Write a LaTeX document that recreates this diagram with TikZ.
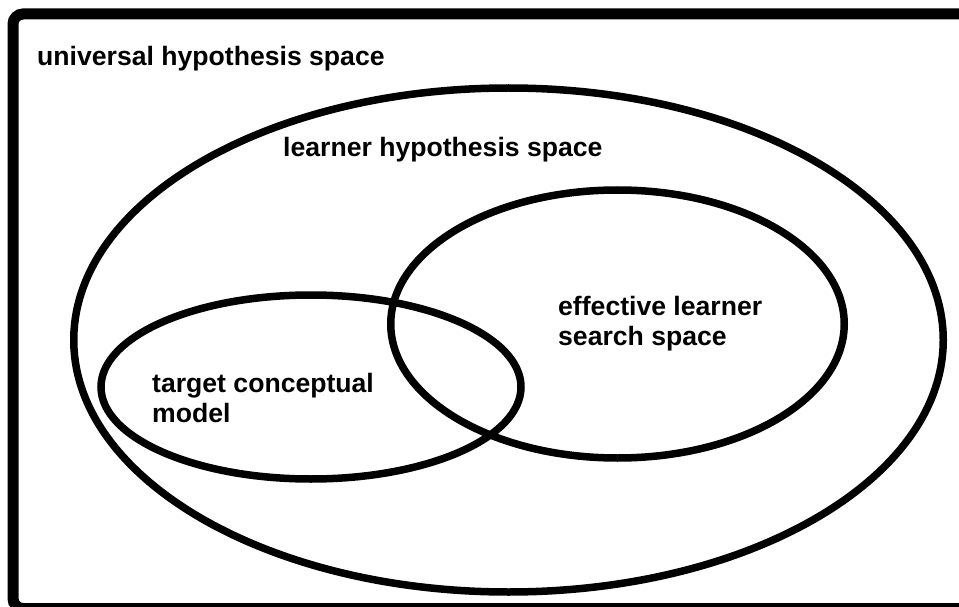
\documentclass[tikz,border=0pt]{standalone}
\usepackage{fontspec}
\setmainfont{Liberation Sans}
\usetikzlibrary{positioning}

\begin{document}
\begin{tikzpicture}
[x=1pt,y=-1pt,%
  frameLine/.style={line width=11pt,rounded corners=10pt},%
  setLine/.style={line width=7.5pt},%
  setLabel/.style={inner sep=0pt,align=left,font=\bfseries\fontsize{26.6}{30}\selectfont}]
\useasboundingbox (0,0) rectangle (959,607);
\clip (0,0) rectangle (959,607);
%% the outer frame
\draw[frameLine] (13,14) rectangle (985,608.5);
%% the three sets
\draw[setLine] (508.5,340) ellipse [x radius=434.75, y radius=252];
\draw[setLine] (617.5,324) ellipse [x radius=226.75, y radius=134];
\draw[setLine] (311,387) ellipse [x radius=210, y radius=92];
%% labels (base is the last line)
\node[setLabel,anchor=base west] (universal) at (37,66) {universal hypothesis space};
\node[setLabel,anchor=base west] (learner) at (283,157) {learner hypothesis space};
\node[setLabel,anchor=base west] (effective) at (558,345) {effective learner\\search space};
\node[setLabel,anchor=base west] (target) at (152,422) {target conceptual\\model};
\end{tikzpicture}
\end{document}
